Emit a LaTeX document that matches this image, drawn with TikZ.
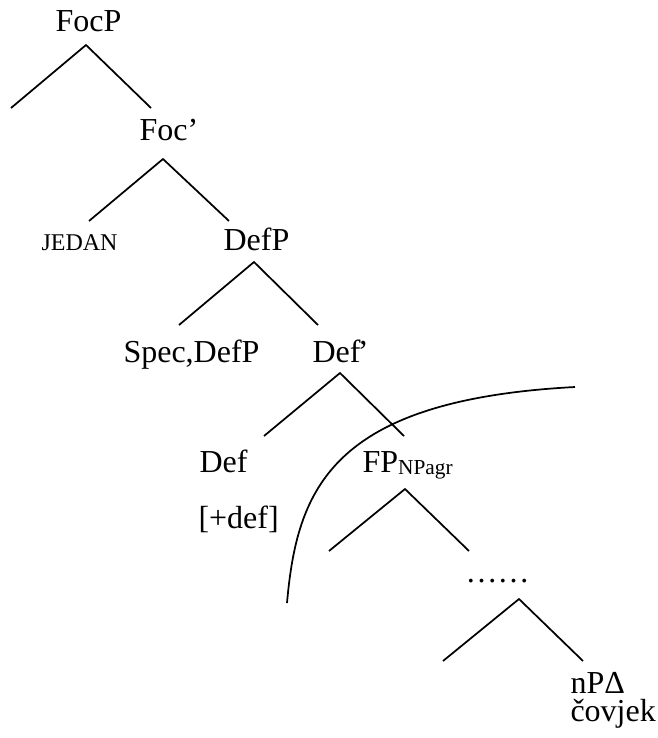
\documentclass[tikz,border=0pt]{standalone}
\usepackage{fontspec}
\setmainfont{Liberation Serif}
\begin{document}
\begin{tikzpicture}[x=0.375pt,y=-0.375pt,
  lbl/.style={anchor=base west,inner sep=0pt,font=\fontsize{12}{14}\selectfont},
  edge/.style={line width=0.65pt,line cap=butt}]
\useasboundingbox (0,0) rectangle (658,738);
% labels
\node[lbl] (FocP) at (55,31) {FocP};
\node[lbl] (Focb) at (139,140) {Foc’};
\node[lbl,font=\fontsize{9}{10}\selectfont] (JEDAN) at (41,250) {JEDAN};
\node[lbl] (DefP) at (223,250) {DefP};
\node[lbl] (Spec) at (123,362) {Spec,DefP};
\node[lbl] (Defb) at (312,362) {Def\kern-1pt’};
\node[lbl] (Def) at (199,472) {Def};
\node[lbl] (plusdef) at (198,528) {[+def]};
\node[lbl] (FP) at (362,472) {FP\raisebox{-1.1pt}{\fontsize{8}{9}\selectfont NPagr}};
\node[lbl] (dots) at (465,582) {……};
\node[lbl] (nP) at (570,693) {nPΔ};
\node[lbl] (covjek) at (570,721) {čovjek};
% branch points
\coordinate (a1) at (86,45);   \coordinate (l1) at (11,108);  \coordinate (r1) at (151,108);
\coordinate (a2) at (163,159); \coordinate (l2) at (89,221);  \coordinate (r2) at (229,221);
\coordinate (a3) at (254,262); \coordinate (l3) at (179,325); \coordinate (r3) at (318,325);
\coordinate (a4) at (340,373); \coordinate (l4) at (264,436); \coordinate (r4) at (404,436);
\coordinate (a5) at (405,489); \coordinate (l5) at (329,551); \coordinate (r5) at (469,551);
\coordinate (a6) at (519,599); \coordinate (l6) at (443,661); \coordinate (r6) at (583,661);
\foreach \i in {1,...,6}{
  \draw[edge] (l\i) -- (a\i) -- (r\i);
}
% curve
\coordinate (c0) at (287,603);
\coordinate (c1) at (575,387);
\draw[edge] (c0) .. controls (297,490) and (330,400) .. (c1);
\end{tikzpicture}
\end{document}
